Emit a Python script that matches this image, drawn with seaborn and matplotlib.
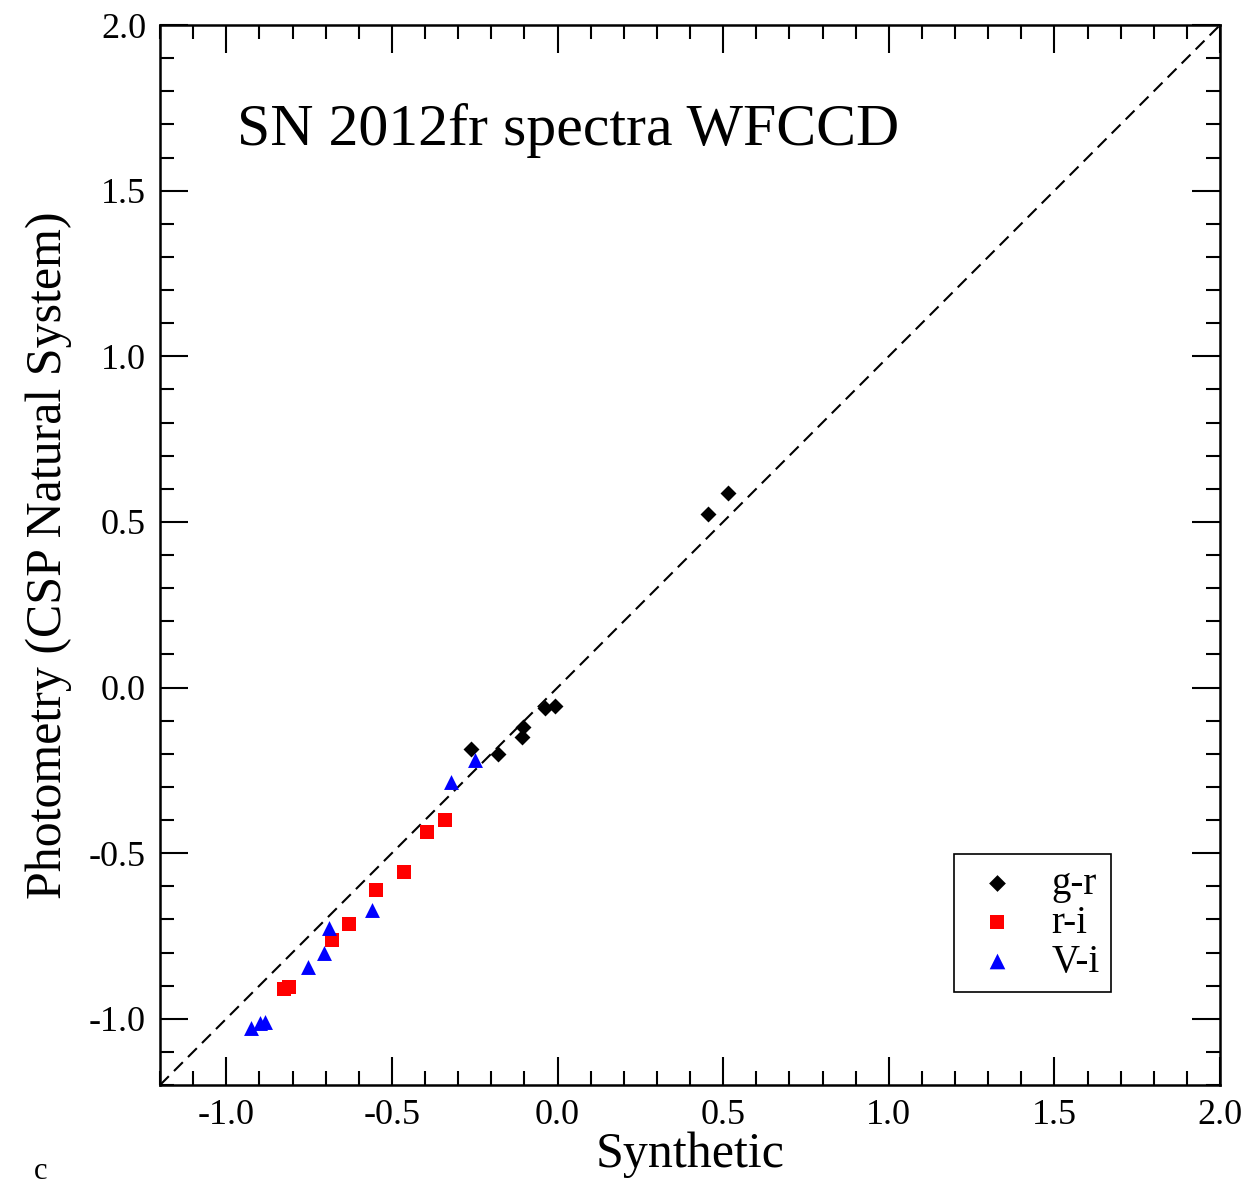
import matplotlib
matplotlib.use("Agg")
import matplotlib.pyplot as plt
import seaborn as sns
import pandas as pd
from matplotlib.ticker import MultipleLocator

# colour indices, synthetic vs photometry
gr_x = [0.516, 0.453, -0.008, -0.038, -0.103, -0.108, -0.179, -0.262]
gr_y = [0.586, 0.523, -0.055, -0.063, -0.120, -0.149, -0.201, -0.187]

ri_x = [-0.340, -0.395, -0.462, -0.548, -0.629, -0.681, -0.810, -0.825]
ri_y = [-0.400, -0.435, -0.558, -0.611, -0.715, -0.762, -0.903, -0.911]

vi_x = [-0.249, -0.322, -0.561, -0.690, -0.704, -0.754, -0.883, -0.898, -0.926]
vi_y = [-0.219, -0.285, -0.672, -0.726, -0.802, -0.843, -1.009, -1.013, -1.029]

labels = ["g-r", "r-i", "V-i"]
xlim = (-1.2, 2.0)
ylim = (-1.2, 2.0)

sns.set_style("ticks")
plt.rcParams['font.family'] = ['Liberation Serif', 'DejaVu Serif']
plt.rcParams['axes.unicode_minus'] = False
plt.rcParams['text.color'] = 'black'
plt.rcParams['axes.labelcolor'] = 'black'
plt.rcParams['xtick.color'] = 'black'
plt.rcParams['ytick.color'] = 'black'

fig = plt.figure(figsize=(12.49, 11.87), dpi=100)
ax = fig.add_axes([0.1281, 0.0859, 0.8487, 0.8930])

# one-to-one line
ax.axline((0, 0), slope=1, color="black", lw=1.5, dashes=(6, 3.5), zorder=1)

df = pd.concat([
    pd.DataFrame({"x": gr_x, "y": gr_y, "c": labels[0]}),
    pd.DataFrame({"x": ri_x, "y": ri_y, "c": labels[1]}),
    pd.DataFrame({"x": vi_x, "y": vi_y, "c": labels[2]}),
])
sizes = {"g-r": 66, "r-i": 92, "V-i": 115}
pal = {"g-r": "black", "r-i": "#ff0000", "V-i": "#0000ff"}
marks = {"g-r": "D", "r-i": "s", "V-i": "^"}
for lab in labels:
    sub = df[df["c"] == lab]
    sns.scatterplot(data=sub, x="x", y="y", color=pal[lab], marker=marks[lab],
                    s=sizes[lab], linewidth=0, ax=ax, label=lab, zorder=3)

ax.set_xlim(*xlim)
ax.set_ylim(*ylim)
ax.xaxis.set_major_locator(MultipleLocator(0.5))
ax.xaxis.set_minor_locator(MultipleLocator(0.1))
ax.yaxis.set_major_locator(MultipleLocator(0.5))
ax.yaxis.set_minor_locator(MultipleLocator(0.1))
ax.tick_params(which="both", direction="in", top=True, right=True, width=1.5)
ax.tick_params(which="major", length=20, labelsize=26, pad=10)
ax.tick_params(which="minor", length=10)
for sp in ax.spines.values():
    sp.set_linewidth(1.8)
    sp.set_color("black")

ax.set_xlabel("Synthetic", fontsize=36, labelpad=0)
ax.set_ylabel("Photometry (CSP Natural System)", fontsize=36, labelpad=12)

ax.text(0.0726, 0.887, "SN 2012fr spectra WFCCD", transform=ax.transAxes,
        fontsize=43, va="baseline", ha="left")

leg = ax.legend(loc="upper left", bbox_to_anchor=(0.749, 0.218), borderaxespad=0,
                fontsize=28, frameon=True, fancybox=False, handletextpad=0.6,
                labelspacing=0.05, borderpad=0.3, handlelength=1.6, markerscale=1.05)
leg.get_frame().set_edgecolor("black")
leg.get_frame().set_linewidth(1.2)
leg.get_frame().set_alpha(1)

# stray glyph at the bottom-left edge
fig.text(0.027, 0.001, "c", fontsize=22, va="bottom", ha="left")

fig.savefig("out.png", dpi=100)
